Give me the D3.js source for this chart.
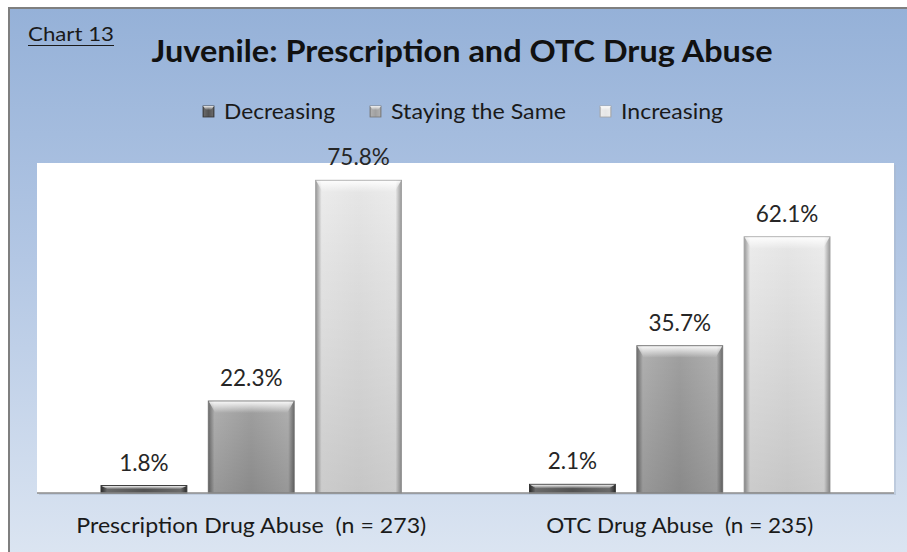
<!DOCTYPE html>
<html><head><meta charset="utf-8">
<script src="https://cdn.jsdelivr.net/npm/d3@7/dist/d3.min.js"></script>
<style>html,body{margin:0;padding:0;background:#fff;}svg{display:block;}text{white-space:pre;}</style>
</head><body>
<svg id="c" width="907" height="552"></svg>
<script>
const categories = ["Prescription Drug Abuse  (n = 273)", "OTC Drug Abuse  (n = 235)"];
const series = ["Decreasing", "Staying the Same", "Increasing"];
const decreasing = [1.8, 2.1];
const staying = [22.3, 35.7];
const increasing = [75.8, 62.1];
const valueSets = [decreasing, staying, increasing];
const title = "Juvenile: Prescription and OTC Drug Abuse";
const chartLabel = "Chart 13";

const svg = d3.select("#c");
const defs = svg.append("defs");
const font = "Lato, 'Open Sans', sans-serif";

// background gradient
const bg = defs.append("linearGradient").attr("id","bg").attr("x1",0).attr("y1",0).attr("x2",0).attr("y2",1);
bg.append("stop").attr("offset","0%").attr("stop-color","#95b1d8");
bg.append("stop").attr("offset","45%").attr("stop-color","#b3c7e4");
bg.append("stop").attr("offset","100%").attr("stop-color","#dde6f2");

const palettes = [
  {edge:"#2a2a2a", mid:"#6a6a6a", body:"#525252", stroke:"#363636"},
  {edge:"#6c6c6c", mid:"#b0b0b0", body:"#a0a0a0", stroke:"#767676"},
  {edge:"#989898", mid:"#ececec", body:"#e6e6e6", stroke:"#a4a4a4"}
];
palettes.forEach((p,i)=>{
  const g = defs.append("linearGradient").attr("id","hg"+i).attr("x1",0).attr("y1",0).attr("x2",1).attr("y2",0);
  g.append("stop").attr("offset","0%").attr("stop-color",p.edge);
  g.append("stop").attr("offset","7%").attr("stop-color",p.mid);
  g.append("stop").attr("offset","50%").attr("stop-color",p.body);
  g.append("stop").attr("offset","93%").attr("stop-color",p.mid);
  g.append("stop").attr("offset","100%").attr("stop-color",p.edge);
  const v = defs.append("linearGradient").attr("id","vg"+i).attr("x1",0).attr("y1",0).attr("x2",0).attr("y2",1);
  v.append("stop").attr("offset","0%").attr("stop-color","#ffffff").attr("stop-opacity",0.9);
  v.append("stop").attr("offset","100%").attr("stop-color","#ffffff").attr("stop-opacity",0);
  const s = defs.append("linearGradient").attr("id","sh"+i).attr("x1",0).attr("y1",0).attr("x2",0).attr("y2",1);
  s.append("stop").attr("offset","0%").attr("stop-color","#000").attr("stop-opacity",0);
  s.append("stop").attr("offset","100%").attr("stop-color","#000").attr("stop-opacity",i===0?0:0.14);
});

svg.append("rect").attr("x",9).attr("y",8).attr("width",910).attr("height",560)
  .attr("fill","url(#bg)").attr("stroke","#7f7f7f").attr("stroke-width",2);

// plot area
const plot = {x0:37, x1:894, top:163, base:493};
svg.append("rect").attr("x",plot.x0+2).attr("y",plot.top+2).attr("width",plot.x1-plot.x0).attr("height",plot.base-plot.top)
  .attr("fill","#a9b8cc").attr("opacity",0.5);
svg.append("rect").attr("x",plot.x0).attr("y",plot.top).attr("width",plot.x1-plot.x0).attr("height",plot.base-plot.top)
  .attr("fill","#ffffff");

const x0 = d3.scaleBand().domain(categories).range([plot.x0, plot.x1]).padding(0);
const x1 = d3.scaleBand().domain(series).range([64, 364.5]).paddingInner(0.2).paddingOuter(0);
const y = d3.scaleLinear().domain([0,80]).range([plot.base, plot.top]);

const data = [];
categories.forEach((c,ci)=>series.forEach((s,si)=>data.push({c, s, si, v: valueSets[si][ci]})));

const bars = svg.append("g");
data.forEach(d=>{
  const bx = x0(d.c)+x1(d.s), bw = x1.bandwidth(), by = y(d.v), bh = y(0)-y(d.v);
  const g = bars.append("g");
  g.append("rect").attr("x",bx).attr("y",by).attr("width",bw).attr("height",bh)
    .attr("fill","url(#hg"+d.si+")").attr("stroke",palettes[d.si].stroke).attr("stroke-width",1);
  g.append("rect").attr("x",bx).attr("y",by).attr("width",bw).attr("height",bh)
    .attr("fill","url(#sh"+d.si+")");
  const th = Math.min(12, bh*0.5);
  g.append("path").attr("d",`M${bx+0.5},${by+0.5}L${bx+bw-0.5},${by+0.5}L${bx+bw-7},${by+th}L${bx+7},${by+th}Z`)
    .attr("fill","url(#vg"+d.si+")");
  svg.append("text").attr("x",bx+bw/2).attr("y",by-15).attr("text-anchor","middle")
    .attr("font-family",font).attr("font-size",22.5).attr("fill","#262626")
    .text(d.v.toFixed(1)+"%");
});

// baseline
svg.append("line").attr("x1",plot.x0).attr("x2",plot.x1).attr("y1",plot.base).attr("y2",plot.base)
  .attr("stroke","#8c8c8c").attr("stroke-width",1.5);

// category labels
const catWidths = [350, 267];
categories.forEach((c,i)=>{
  svg.append("text").attr("x",x0(c)+x0.bandwidth()/2).attr("y",533).attr("text-anchor","middle")
    .attr("font-family",font).attr("font-size",22).attr("fill","#1a1a1a")
    .attr("textLength",catWidths[i]).attr("lengthAdjust","spacingAndGlyphs").text(c);
});

// title
svg.append("text").attr("x",462).attr("y",62).attr("text-anchor","middle")
  .attr("font-family",font).attr("font-weight","bold").attr("font-size",31).attr("fill","#111")
  .attr("textLength",621).attr("lengthAdjust","spacingAndGlyphs").text(title);

// chart label
svg.append("text").attr("x",28).attr("y",41).attr("font-family",font).attr("font-size",19).attr("fill","#1a1a1a")
  .attr("textLength",86).attr("lengthAdjust","spacingAndGlyphs").text(chartLabel);
svg.append("line").attr("x1",28).attr("x2",114).attr("y1",45.5).attr("y2",45.5).attr("stroke","#1a1a1a").attr("stroke-width",1.2);

// legend
const legendX = [203, 370, 600];
const legendW = [111, 175, 102];
series.forEach((s,i)=>{
  const g = svg.append("g");
  g.append("rect").attr("x",legendX[i]).attr("y",106).attr("width",11).attr("height",11)
    .attr("fill","url(#hg"+i+")").attr("stroke",palettes[i].stroke).attr("stroke-width",0.8);
  g.append("path").attr("d",`M${legendX[i]},${106}L${legendX[i]+11},${106}L${legendX[i]+8},${110}L${legendX[i]+3},${110}Z`)
    .attr("fill","url(#vg"+i+")");
  g.append("text").attr("x",legendX[i]+21).attr("y",119).attr("font-family",font).attr("font-size",21).attr("fill","#1a1a1a")
    .attr("textLength",legendW[i]).attr("lengthAdjust","spacingAndGlyphs").text(s);
});
</script>
</body></html>
